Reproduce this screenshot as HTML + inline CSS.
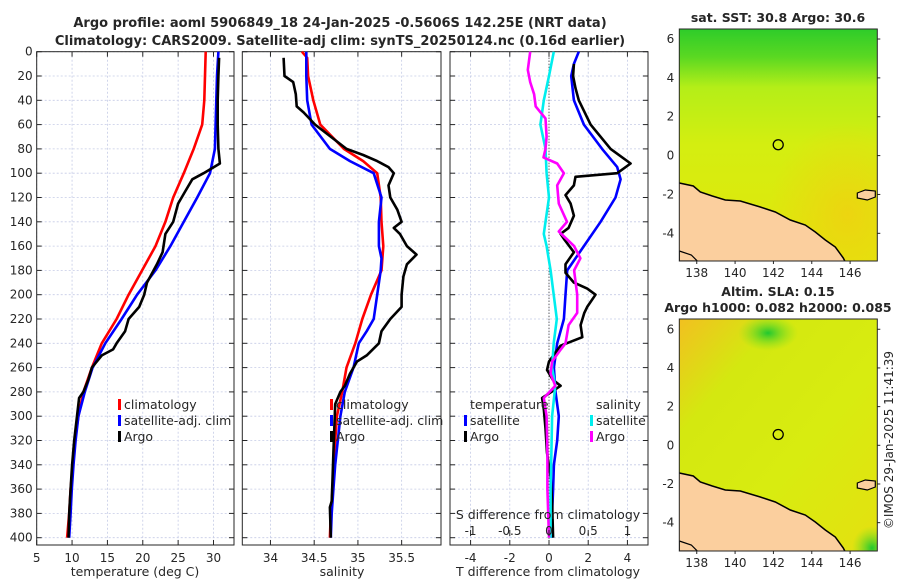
<!DOCTYPE html>
<html><head><meta charset="utf-8">
<style>
body{margin:0;background:#fff;}
svg text{font-family:"DejaVu Sans","Liberation Sans",sans-serif;fill:#262626;}
</style></head>
<body>
<svg id="fig" xmlns="http://www.w3.org/2000/svg" width="900" height="580" viewBox="0 0 900 580">
<defs>
<linearGradient id="sstg" x1="0" y1="0" x2="0" y2="1">
<stop offset="0" stop-color="#2ecc2a"/><stop offset="0.12" stop-color="#5ad822"/><stop offset="0.25" stop-color="#b4ee18"/><stop offset="0.5" stop-color="#d4ee10"/><stop offset="1" stop-color="#e2e60c"/>
</linearGradient>
<radialGradient id="sstor" cx="0.85" cy="0.8" r="0.4"><stop offset="0" stop-color="#f0d010" stop-opacity="0.8"/><stop offset="1" stop-color="#f0d010" stop-opacity="0"/></radialGradient>
<linearGradient id="slag" x1="0" y1="0" x2="1" y2="1">
<stop offset="0" stop-color="#f2c020"/><stop offset="0.25" stop-color="#d4e810"/><stop offset="0.6" stop-color="#d8ec10"/><stop offset="1" stop-color="#e4e010"/>
</linearGradient>
<radialGradient id="slagr" cx="0.5" cy="0.5" r="0.5"><stop offset="0" stop-color="#20c830"/><stop offset="1" stop-color="#80e020" stop-opacity="0"/></radialGradient>
<clipPath id="clipTop"><rect x="679.3" y="29" width="198" height="232"/></clipPath>
<clipPath id="clipBot"><rect x="679.3" y="319" width="198" height="232"/></clipPath>
</defs>
<g id="title">
<text x="340" y="27" text-anchor="middle" font-size="13" font-weight="bold">Argo profile: aoml 5906849_18 24-Jan-2025 -0.5606S 142.25E (NRT data)</text>
<text x="340" y="45" text-anchor="middle" font-size="13" font-weight="bold">Climatology: CARS2009. Satellite-adj clim: synTS_20250124.nc (0.16d earlier)</text>
</g>
<g id="panels"></g>
<g id="maps"></g>
<text x="893" y="440" font-size="12" transform="rotate(-90 893 440)" text-anchor="middle">©IMOS 29-Jan-2025 11:41:39</text>
</svg>
<script>
// ---- data ----
const tClimDepth=[0,20,40,60,80,100,120,140,160,180,200,220,240,260,280,300,320,340,360,380,400];
const tClimVal=[28.9,28.8,28.7,28.4,27.2,25.8,24.3,23.2,21.8,19.9,18.0,16.3,14.2,12.8,11.6,10.9,10.4,10.1,9.8,9.6,9.3];
const tSatDepth=[0,20,40,60,80,100,120,140,160,180,200,220,240,260,280,300,320,340,360,380,400];
const tSatVal=[30.7,30.5,30.4,30.3,30.2,29.5,27.7,25.8,23.9,21.8,19.2,17.0,14.7,12.9,11.8,10.9,10.5,10.2,9.96,9.8,9.6];
const tArgoDepth=[5,20,40,60,80,92,100,105,115,125,140,150,165,175,190,200,210,220,230,240,245,250,255,260,270,280,285,300,320,340,360,380,400];
const tArgoVal=[30.8,30.7,30.6,30.6,30.7,30.9,28.6,27.0,26.0,25.0,24.3,23.2,22.8,22.0,20.6,20.2,19.5,18.0,17.5,16.3,15.8,14.2,13.5,12.8,12.3,11.6,11.0,10.7,10.3,10.0,9.8,9.6,9.5];
const sClimDepth=[0,5,20,40,60,80,90,100,120,140,160,180,200,220,240,260,280,300,320,340,360,380,400];
const sClimVal=[34.36,34.42,34.43,34.49,34.57,34.84,35.06,35.22,35.26,35.27,35.29,35.27,35.15,35.05,34.97,34.87,34.82,34.76,34.74,34.72,34.71,34.69,34.68];
const sSatDepth=[0,20,40,60,80,90,100,120,140,160,170,180,200,220,230,240,260,280,300,320,340,360,380,400];
const sSatVal=[34.41,34.41,34.42,34.47,34.68,34.91,35.18,35.27,35.24,35.24,35.27,35.26,35.22,35.18,35.10,35.01,34.95,34.85,34.80,34.77,34.74,34.72,34.70,34.69];
const sArgoDepth=[5,20,25,35,45,50,60,80,85,90,95,100,110,120,130,140,145,150,160,167,175,185,200,210,220,230,240,250,255,265,275,280,290,310,330,350,370,375,400];
const sArgoVal=[34.15,34.16,34.26,34.29,34.30,34.38,34.51,34.87,35.06,35.22,35.35,35.41,35.35,35.37,35.45,35.50,35.41,35.48,35.56,35.67,35.56,35.52,35.50,35.50,35.37,35.27,35.24,35.10,34.99,34.91,34.85,34.80,34.74,34.73,34.72,34.71,34.70,34.68,34.69];
const dtSatDepth=[0,10,20,40,60,80,95,105,120,140,160,180,200,220,240,260,280,300,320,340,360,380,400];
const dtSatVal=[1.52,1.27,1.13,1.27,1.78,2.71,3.48,3.65,3.39,2.63,1.78,0.93,0.84,0.76,0.42,0.25,0.33,0.5,0.42,0.25,0.21,0.16,0.16];
const dtArgoDepth=[10,20,30,40,60,80,92,100,103,110,118,125,135,145,150,155,165,175,182,190,195,200,210,215,225,235,242,255,262,270,275,285,295,310,330,350,370,400];
const dtArgoVal=[1.27,1.23,1.35,1.52,2.12,3.14,4.16,3.48,1.35,1.27,0.84,1.1,1.27,1.0,0.59,0.8,1.27,0.84,0.84,1.27,1.95,2.37,1.95,1.8,1.61,1.7,0.59,0,-0.1,0.2,0.59,-0.35,-0.26,-0.18,-0.1,0.08,0.16,0.21];
const dsSatDepth=[0,20,40,60,80,100,120,140,150,160,180,200,220,240,260,275,300,330,360,400];
const dsSatVal=[0.061,0,-0.066,-0.11,-0.045,-0.03,0,-0.045,-0.066,-0.03,0.02,0.06,0.1,0.06,0.04,0.08,0.04,0.03,0.02,0.02];
const dsArgoDepth=[0,15,25,35,45,55,70,80,87,92,100,110,125,140,148,160,170,180,200,215,225,240,245,255,265,275,285,300,330,360,380,400];
const dsArgoVal=[-0.24,-0.27,-0.24,-0.19,-0.17,-0.045,-0.03,-0.045,-0.07,0.105,0.19,0.105,0.125,0.23,0.125,0.32,0.40,0.32,0.36,0.36,0.25,0.21,0.15,0.04,0.02,0.08,-0.066,-0.03,-0.02,-0.02,-0.01,0];
const depthTicks=[0,20,40,60,80,100,120,140,160,180,200,220,240,260,280,300,320,340,360,380,400];
const tempTicks=[5,10,15,20,25,30];
const salTicks=[34,34.5,35,35.5];
const salTickLabels=['34','34.5','35','35.5'];
const dtTicks=[-4,-2,0,2,4];
const dsTicks=[-1,-0.5,0,0.5,1];
const dsTickLabels=['-1','-0.5','0','0.5','1'];
const latTicks=[6,4,2,0,-2,-4];
const lonTicks=[138,140,142,144,146];

const NS='http://www.w3.org/2000/svg';
function mk(tag,attrs,parent){const e=document.createElementNS(NS,tag);for(const k in attrs)e.setAttribute(k,attrs[k]);parent.appendChild(e);return e;}
const Y0=51.7, YB=545, DPX=1.215;
function yD(d){return Y0+d*DPX;}
const panelsG=document.getElementById('panels');

function panel(name,x0,x1,vmin,vmax,ticks,labels,showDepth){
  const g=mk('g',{},panelsG);
  
  
  const sx=v=>x0+(v-vmin)/(vmax-vmin)*(x1-x0);
  ticks.forEach(t=>{const l=mk('line',{x1:sx(t),x2:sx(t),y1:Y0,y2:YB,stroke:'#c5cbe6','stroke-width':0.8,'stroke-dasharray':'2,2'},g);});
  depthTicks.forEach(d=>{const l=mk('line',{x1:x0,x2:x1,y1:yD(d),y2:yD(d),stroke:'#c5cbe6','stroke-width':0.8,'stroke-dasharray':'2,2'},g);
    mk('line',{x1:x0,x2:x0+5,y1:yD(d),y2:yD(d),stroke:'#262626','stroke-width':1},g);
    mk('line',{x1:x1-5,x2:x1,y1:yD(d),y2:yD(d),stroke:'#262626','stroke-width':1},g);
    if(showDepth){const t=mk('text',{x:x0-4,y:yD(d)+4,'text-anchor':'end','font-size':12},g);t.textContent=d;}
  });
  ticks.forEach((t,i)=>{mk('line',{x1:sx(t),x2:sx(t),y1:YB,y2:YB-5,stroke:'#262626','stroke-width':1},g);mk('line',{x1:sx(t),x2:sx(t),y1:Y0,y2:Y0+5,stroke:'#262626','stroke-width':1},g);
    const tx=mk('text',{x:sx(t),y:YB+17,'text-anchor':'middle','font-size':12},g);tx.textContent=labels?labels[i]:t;});
  const b=mk('rect',{x:x0,y:Y0,width:x1-x0,height:YB-Y0,fill:'none',stroke:'#262626','stroke-width':1},g);
  
  return {g,sx};
}
function series(p,name,depths,vals,color,sx){
  const pts=depths.map((d,i)=>(sx(vals[i])).toFixed(1)+','+yD(d).toFixed(1)).join(' ');
  const pl=mk('polyline',{points:pts,fill:'none',stroke:color,'stroke-width':2.6,'stroke-linejoin':'round'},p.g);
  
  
}
function legend(g,x,y,color,label){
  mk('rect',{x:x,y:y-10,width:3,height:11,fill:color},g);
  const t=mk('text',{x:x+6,y:y,'font-size':12.5},g);t.textContent=label;
  
  
}
const p1=panel('temperature-panel',36.7,234,5,32.9,tempTicks,null,true);
series(p1,'temp-climatology-line',tClimDepth,tClimVal,'#ff0000',p1.sx);
series(p1,'temp-satellite-line',tSatDepth,tSatVal,'#0000ff',p1.sx);
series(p1,'temp-argo-line',tArgoDepth,tArgoVal,'#000000',p1.sx);
legend(p1.g,118,409,'#ff0000','climatology');legend(p1.g,118,425,'#0000ff','satellite-adj. clim');legend(p1.g,118,441,'#000','Argo');
const p2=panel('salinity-panel',242.3,441,33.678,35.95,salTicks,salTickLabels,false);
series(p2,'sal-climatology-line',sClimDepth,sClimVal,'#ff0000',p2.sx);
series(p2,'sal-satellite-line',sSatDepth,sSatVal,'#0000ff',p2.sx);
series(p2,'sal-argo-line',sArgoDepth,sArgoVal,'#000000',p2.sx);
legend(p2.g,330,409,'#ff0000','climatology');legend(p2.g,330,425,'#0000ff','satellite-adj. clim');legend(p2.g,330,441,'#000','Argo');
const p3=panel('difference-panel',450,648,-5.05,5.05,dtTicks,null,false);
const sxS=v=>p3.sx(v*4);
const zl=mk('line',{x1:p3.sx(0),x2:p3.sx(0),y1:Y0,y2:YB,stroke:'#333','stroke-width':1,'stroke-dasharray':'1,2'},p3.g);

series(p3,'dT-satellite-line',dtSatDepth,dtSatVal,'#0000ff',p3.sx);
series(p3,'dT-argo-line',dtArgoDepth,dtArgoVal,'#000000',p3.sx);
series(p3,'dS-satellite-line',dsSatDepth,dsSatVal,'#00eeee',sxS);
series(p3,'dS-argo-line',dsArgoDepth,dsArgoVal,'#ff00ff',sxS);
{const t=mk('text',{x:548,y:519,'text-anchor':'middle','font-size':12.5},p3.g);t.textContent='S difference from climatology';
 dsTicks.forEach((v,i)=>{mk('line',{x1:sxS(v),x2:sxS(v),y1:530,y2:536,stroke:'#262626'},p3.g);const tx=mk('text',{x:sxS(v),y:535,'text-anchor':'middle','font-size':12},p3.g);tx.textContent=dsTickLabels[i];});}
{const t=mk('text',{x:470,y:409,'font-size':12.5},p3.g);t.textContent='temperature';
 const t2=mk('text',{x:596,y:409,'font-size':12.5},p3.g);t2.textContent='salinity';}
legend(p3.g,464,425,'#0000ff','satellite');legend(p3.g,464,441,'#000','Argo');
legend(p3.g,590,425,'#00eeee','satellite');legend(p3.g,590,441,'#ff00ff','Argo');
[['temperature (deg C)',135,'temp-axis-title'],['salinity',342,'salinity-axis-title'],['T difference from climatology',548,'dT-axis-title']].forEach(a=>{const t=mk('text',{x:a[1],y:576,'text-anchor':'middle','font-size':12.5},panelsG);t.textContent=a[0];});

// ---- maps ----
const mapsG=document.getElementById('maps');
const MX0=679.3,MX1=877.3,LON0=137.09,LONPX=19.17;
function drawMap(name,top,bottom,lat0y,latpx,fill,extra,titles,clip){
  const g=mk('g',{},mapsG);
  
  
  const inner=mk('g',{'clip-path':'url(#'+clip+')'},g);
  const lx=lon=>MX0+(lon-LON0)*LONPX, ly=lat=>lat0y-lat*latpx;
  mk('rect',{x:MX0,y:top,width:MX1-MX0,height:bottom-top,fill:fill},inner);
  extra(inner);
  const cp=[[0,154],[14,157],[21,163],[33,167],[46,171],[61,172],[81,178],[96,183],[111,191],[126,196],[136,203],[146,211],[156,218],[164,229],[166,233]];
  const off=top-29;
  const pts=cp.map(p=>(MX0+p[0])+','+(29+p[1]+off)).join(' ')+' '+(MX0+166)+','+bottom+' '+MX0+','+bottom;
  const land=mk('polygon',{points:pts,fill:'#fbcf9e',stroke:'none'},inner);
  
  mk('polyline',{points:cp.map(p=>(MX0+p[0])+','+(29+p[1]+off)).join(' '),fill:'none',stroke:'#000','stroke-width':1.5},inner);
  mk('path',{d:`M${MX0+178} ${top+164} l8 -3 l10 1 l0 6 l-8 3 l-10 -2z`,fill:'#fbcf9e',stroke:'#000','stroke-width':1.2},inner);
  mk('path',{d:`M${MX0} ${top+222} l12 4 l6 6 l-18 0z`,fill:'#fbcf9e',stroke:'#000','stroke-width':1.2},inner);
  const c=mk('circle',{cx:lx(142.25),cy:ly(0.56),r:5,fill:'none',stroke:'#000','stroke-width':1.3},g);
  
  mk('rect',{x:MX0,y:top,width:MX1-MX0,height:bottom-top,fill:'none',stroke:'#262626','stroke-width':1},g);
  latTicks.forEach(t=>{mk('line',{x1:MX1,x2:MX1+3,y1:ly(t),y2:ly(t),stroke:'#262626'},g);const tx=mk('text',{x:MX0-5,y:ly(t)+4,'text-anchor':'end','font-size':12},g);tx.textContent=t;});
  lonTicks.forEach(t=>{mk('line',{x1:lx(t),x2:lx(t),y1:bottom,y2:bottom+3,stroke:'#262626'},g);const tx=mk('text',{x:lx(t),y:bottom+16,'text-anchor':'middle','font-size':12},g);tx.textContent=t;});
  titles.forEach(tt=>{const tx=mk('text',{x:778,y:tt[1],'text-anchor':'middle','font-size':12.5,'font-weight':'bold'},g);tx.textContent=tt[0];});
}
drawMap('sst-map',29,261,155.6,19.43,'url(#sstg)',g=>{mk('rect',{x:MX0,y:29,width:198,height:232,fill:'url(#sstor)'},g);},[['sat. SST: 30.8 Argo: 30.6',22]],'clipTop');
drawMap('sla-map',319,551,445.3,19.34,'url(#slag)',g=>{mk('ellipse',{cx:768,cy:333,rx:30,ry:18,fill:'url(#slagr)'},g);mk('ellipse',{cx:872,cy:548,rx:20,ry:22,fill:'url(#slagr)'},g);},[['Altim. SLA: 0.15',296],['Argo h1000: 0.082 h2000: 0.085',312]],'clipBot');
</script>
</body></html>
